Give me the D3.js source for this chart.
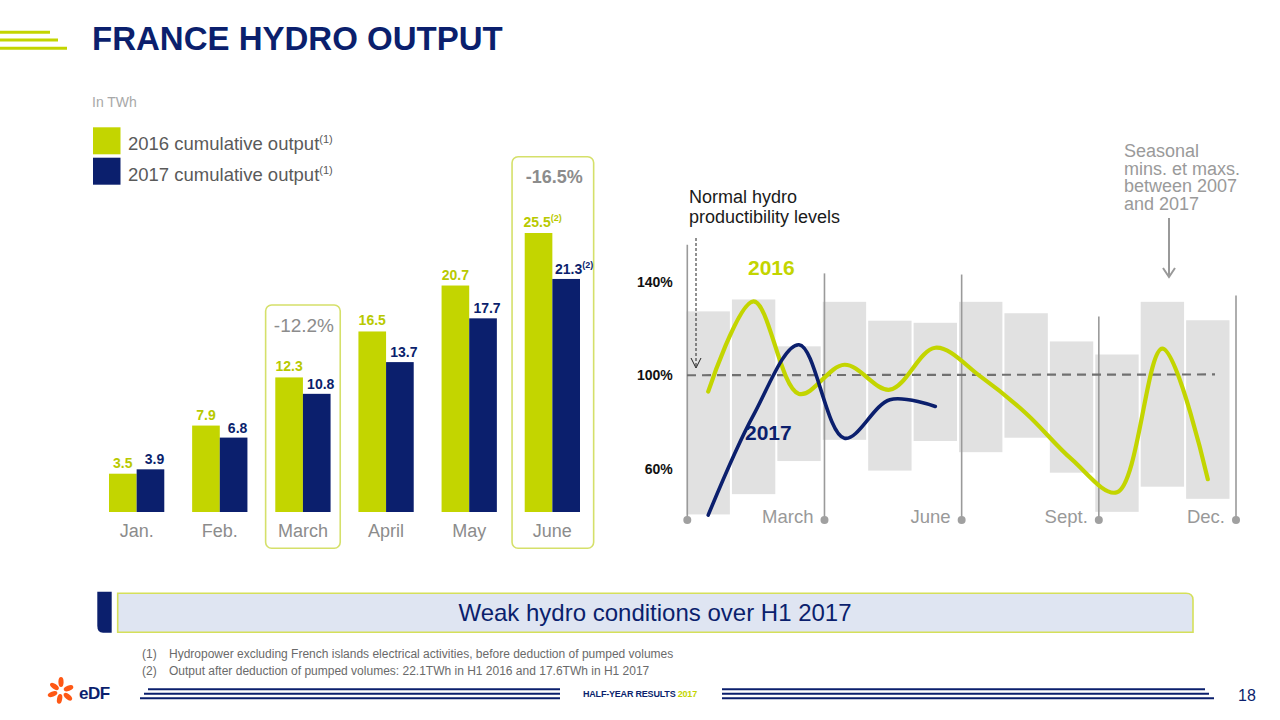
<!DOCTYPE html>
<html>
<head>
<meta charset="utf-8">
<script src="https://cdn.jsdelivr.net/npm/d3@7"></script>
<style>
  html, body { margin: 0; padding: 0; background: #ffffff; }
  svg { display: block; font-family: "Liberation Sans", Arial, sans-serif; }
</style>
</head>
<body>
<svg id="chart" width="1280" height="720"></svg>
<script>
// ---------- DATA ----------
const months = ["Jan.", "Feb.", "March", "April", "May", "June"];
const output2016 = [3.5, 7.9, 12.3, 16.5, 20.7, 25.5];
const output2017 = [3.9, 6.8, 10.8, 13.7, 17.7, 21.3];
const note2016 = ["", "", "", "", "", "(2)"];
const note2017 = ["", "", "", "", "", "(2)"];
const highlightMonths = ["March", "June"];
const highlightChanges = ["-12.2%", "-16.5%"];

const yearMonths = ["Jan", "Feb", "Mar", "Apr", "May", "Jun", "Jul", "Aug", "Sep", "Oct", "Nov", "Dec"];
const seasonalMin = [40.3, 49.0, 63.2, 72.3, 59.1, 71.8, 67.0, 73.2, 58.2, 41.4, 52.2, 47.0];
const seasonalMax = [127.4, 132.5, 112.4, 131.5, 123.4, 122.5, 131.5, 126.6, 114.5, 108.9, 131.5, 123.6];
const hydro2016 = [93.0, 131.7, 92.0, 104.5, 93.8, 111.8, 99.4, 83.6, 64.0, 49.8, 111.4, 55.4];
const hydro2017 = [40.0, 83.0, 113.1, 73.0, 89.5, 86.6];
const pctTicks = [60, 100, 140];
const quarterPos = [0, 3, 6, 9, 12];
const quarterLabels = ["", "March", "June", "Sept.", "Dec."];
const quarterTop = [156, 143.7, 143.2, 125.2, 134.2];

const GREEN = "#c3d500", GREEN_TXT = "#b8c900", NAVY = "#0b1f6d", GREY_TXT = "#8c8c8c";

const svg = d3.select("#chart");

// ---------- HEADER ----------
const hdr = svg.append("g");
[[32.3, 50], [40, 58], [48.3, 67]].forEach(([y, x2]) => {
  hdr.append("line").attr("x1", 0).attr("x2", x2).attr("y1", y).attr("y2", y)
    .attr("stroke", GREEN).attr("stroke-width", 3);
});
svg.append("text").attr("x", 92).attr("y", 50).attr("fill", NAVY)
  .attr("font-size", 33).attr("font-weight", "bold").text("FRANCE HYDRO OUTPUT");
svg.append("text").attr("x", 92).attr("y", 107).attr("fill", "#a8a8a8")
  .attr("font-size", 14).text("In TWh");

// ---------- LEGEND ----------
const legend = [["2016 cumulative output", GREEN], ["2017 cumulative output", NAVY]];
legend.forEach(([lbl, c], i) => {
  const y0 = 127.3 + i * 30.4;
  svg.append("rect").attr("x", 93).attr("y", y0).attr("width", 27.5).attr("height", 27).attr("fill", c);
  const t = svg.append("text").attr("x", 128).attr("y", y0 + 23).attr("fill", "#5a5a5a").attr("font-size", 18.5);
  t.append("tspan").text(lbl);
  t.append("tspan").attr("font-size", 11).attr("dy", -7).text("(1)");
});

// ---------- BAR CHART ----------
const xBar = d3.scaleBand().domain(months).range([109, 580]).paddingInner(0.335);
const xSub = d3.scaleBand().domain(["2016", "2017"]).range([0, xBar.bandwidth()]);
const yBar = d3.scaleLinear().domain([0, 25.5]).range([512, 233]);

// highlight boxes
highlightMonths.forEach((m, i) => {
  const cx = xBar(m) + xBar.bandwidth() / 2;
  const w = i === 0 ? 74.6 : 81.6;
  const top = i === 0 ? 305 : 156.7;
  svg.append("rect").attr("x", cx - w / 2 + (i === 0 ? 0 : 0.5)).attr("y", top)
    .attr("width", w).attr("height", 548.3 - top).attr("rx", 6)
    .attr("fill", "none").attr("stroke", "#d5e06a").attr("stroke-width", 1.6);
  svg.append("text").attr("x", cx + (i === 0 ? 1 : 2)).attr("y", i === 0 ? 332 : 183)
    .attr("text-anchor", "middle").attr("fill", GREY_TXT)
    .attr("font-size", i === 0 ? 19 : 18).attr("font-weight", i === 0 ? "normal" : "bold")
    .text(highlightChanges[i]);
});

const groups = svg.append("g").selectAll("g").data(months).join("g")
  .attr("transform", m => `translate(${xBar(m)},0)`);
groups.append("rect").attr("x", xSub("2016")).attr("width", xSub.bandwidth())
  .attr("y", (m, i) => yBar(output2016[i])).attr("height", (m, i) => yBar(0) - yBar(output2016[i]))
  .attr("fill", GREEN);
groups.append("rect").attr("x", xSub("2017")).attr("width", xSub.bandwidth())
  .attr("y", (m, i) => yBar(output2017[i])).attr("height", (m, i) => yBar(0) - yBar(output2017[i]))
  .attr("fill", NAVY);

groups.each(function (m, i) {
  const g = d3.select(this);
  const t1 = g.append("text").attr("x", xSub("2016") + xSub.bandwidth() / 2 + (note2016[i] ? 4 : 0))
    .attr("y", yBar(output2016[i]) - 6).attr("text-anchor", "middle")
    .attr("fill", GREEN_TXT).attr("font-size", 14).attr("font-weight", "bold");
  t1.append("tspan").text(output2016[i].toFixed(1));
  if (note2016[i]) t1.append("tspan").attr("font-size", 9).attr("dy", -6).text(note2016[i]);
  const t2 = g.append("text").attr("x", xSub("2017") + xSub.bandwidth() / 2 + (note2017[i] ? 8 : 4))
    .attr("y", yBar(output2017[i]) - 5).attr("text-anchor", "middle")
    .attr("fill", NAVY).attr("font-size", 14).attr("font-weight", "bold");
  t2.append("tspan").text(output2017[i].toFixed(1));
  if (note2017[i]) t2.append("tspan").attr("font-size", 9).attr("dy", -6).text(note2017[i]);
  g.append("text").attr("x", xBar.bandwidth() / 2).attr("y", 537).attr("text-anchor", "middle")
    .attr("fill", GREY_TXT).attr("font-size", 18).text(m);
});

// ---------- HYDRO INDEX CHART ----------
const xM = d3.scaleBand().domain(yearMonths).range([686.5, 1229.5]).paddingInner(0.045);
const xQ = d3.scaleLinear().domain([0, 12]).range([687.3, 1236]);
const yP = d3.scaleLinear().domain([60, 140]).range([468.5, 282]);
const baseY = 520;

// seasonal boxes
svg.append("g").selectAll("rect").data(yearMonths).join("rect")
  .attr("x", d => xM(d)).attr("width", xM.bandwidth())
  .attr("y", (d, i) => yP(seasonalMax[i])).attr("height", (d, i) => yP(seasonalMin[i]) - yP(seasonalMax[i]))
  .attr("fill", "#e1e1e1");

// quarter lines
const q = svg.append("g");
quarterPos.forEach((p, i) => {
  q.append("line").attr("x1", xQ(p)).attr("x2", xQ(p)).attr("y1", yP(quarterTop[i])).attr("y2", baseY)
    .attr("stroke", "#9a9a9a").attr("stroke-width", 1.6);
  q.append("circle").attr("cx", xQ(p)).attr("cy", baseY).attr("r", 4).attr("fill", "#a0a0a0");
  if (quarterLabels[i]) {
    q.append("text").attr("x", xQ(p) - 11).attr("y", 523).attr("text-anchor", "end")
      .attr("fill", "#999").attr("font-size", 18.5).text(quarterLabels[i]);
  }
});

// y tick labels
svg.append("g").selectAll("text").data(pctTicks).join("text")
  .attr("x", 672.7).attr("y", d => yP(d) + 5).attr("text-anchor", "end")
  .attr("font-size", 14).attr("font-weight", "bold").attr("fill", "#111")
  .text(d => d + "%");

// normal level dashed
svg.append("line").attr("x1", 687).attr("x2", 1215).attr("y1", yP(100)).attr("y2", yP(100) - 0.8)
  .attr("stroke", "#707070").attr("stroke-width", 2.2).attr("stroke-dasharray", "9,6");

// lines
const line = d3.line().x((d, i) => xM(yearMonths[i]) + xM.bandwidth() / 2).y(d => yP(d))
  .curve(d3.curveCatmullRom.alpha(0.5));
svg.append("path").datum(hydro2016).attr("d", line).attr("fill", "none")
  .attr("stroke", GREEN).attr("stroke-width", 4.2).attr("stroke-linecap", "round");
svg.append("path").datum(hydro2017).attr("d", line).attr("fill", "none")
  .attr("stroke", NAVY).attr("stroke-width", 3.6).attr("stroke-linecap", "round");

svg.append("text").attr("x", 748).attr("y", 275).attr("fill", GREEN)
  .attr("font-size", 21).attr("font-weight", "bold").text("2016");
svg.append("text").attr("x", 745).attr("y", 440).attr("fill", NAVY)
  .attr("font-size", 21).attr("font-weight", "bold").text("2017");

// annotations
const ann = svg.append("text").attr("x", 689).attr("fill", "#1a1a1a").attr("font-size", 18);
ann.append("tspan").attr("x", 689).attr("y", 203).text("Normal hydro");
ann.append("tspan").attr("x", 689).attr("y", 223).text("productibility levels");
svg.append("line").attr("x1", 696).attr("x2", 696).attr("y1", 238).attr("y2", 367)
  .attr("stroke", "#222").attr("stroke-width", 1).attr("stroke-dasharray", "3,2");
svg.append("path").attr("d", "M691,358 L696,368 L701,358").attr("fill", "none")
  .attr("stroke", "#222").attr("stroke-width", 1);

const seas = svg.append("text").attr("fill", "#9a9a9a").attr("font-size", 18);
["Seasonal", "mins. et maxs.", "between 2007", "and 2017"].forEach((s, i) => {
  seas.append("tspan").attr("x", 1124).attr("y", 157 + i * 17.5).text(s);
});
svg.append("line").attr("x1", 1169).attr("x2", 1169).attr("y1", 218).attr("y2", 276)
  .attr("stroke", "#999").attr("stroke-width", 2);
svg.append("path").attr("d", "M1163,268 L1169,277 L1175,268").attr("fill", "none")
  .attr("stroke", "#999").attr("stroke-width", 2);

// ---------- BANNER ----------
svg.append("path").attr("d", "M97.3,591.7 H111.7 V632.7 H103 Q97.3,632.7 97.3,626 Z").attr("fill", NAVY);
svg.append("path").attr("d", "M117.7,593.3 H1186 Q1193,593.3 1193,600 V632.3 H117.7 Z")
  .attr("fill", "#dfe5f2").attr("stroke", "#d5e05a").attr("stroke-width", 1.6);
svg.append("text").attr("x", 655).attr("y", 621).attr("text-anchor", "middle")
  .attr("fill", NAVY).attr("font-size", 24).text("Weak hydro conditions over H1 2017");

// footnotes
const notes = [["(1)", "Hydropower excluding French islands electrical activities, before deduction of pumped volumes"],
               ["(2)", "Output after deduction of pumped volumes: 22.1TWh in H1 2016 and 17.6TWh in H1 2017"]];
notes.forEach(([n, t], i) => {
  svg.append("text").attr("x", 142).attr("y", 658 + i * 17).attr("fill", "#6a6a6a").attr("font-size", 12).text(n);
  svg.append("text").attr("x", 169).attr("y", 658 + i * 17).attr("fill", "#6a6a6a").attr("font-size", 12).text(t);
});

// ---------- FOOTER ----------
const logo = svg.append("g").attr("transform", "translate(61,691)");
[[-90, 9], [-20, 8], [40, 9], [100, 8], [160, 9], [215, 8]].forEach(([a, r]) => {
  logo.append("ellipse").attr("cx", 0).attr("cy", -r).attr("rx", 2.6).attr("ry", 5)
    .attr("transform", `rotate(${a + 90})`).attr("fill", "#fe5815");
});
svg.append("text").attr("x", 79).attr("y", 699).attr("fill", NAVY).attr("font-size", 17)
  .attr("font-weight", "bold").attr("letter-spacing", -0.5).text("eDF");

[[689.3, 148, 560], [693.7, 144, 560], [698.3, 140, 560]].forEach(([y, x1, x2]) => {
  svg.append("line").attr("x1", x1).attr("x2", x2).attr("y1", y).attr("y2", y)
    .attr("stroke", NAVY).attr("stroke-width", 2);
});
[[689.3, 722, 1205], [693.7, 722, 1209], [698.3, 722, 1214]].forEach(([y, x1, x2]) => {
  svg.append("line").attr("x1", x1).attr("x2", x2).attr("y1", y).attr("y2", y)
    .attr("stroke", NAVY).attr("stroke-width", 2);
});
const hy = svg.append("text").attr("x", 583).attr("y", 697).attr("font-size", 9)
  .attr("font-weight", "bold").attr("letter-spacing", -0.2);
hy.append("tspan").attr("fill", NAVY).text("HALF-YEAR RESULTS ");
hy.append("tspan").attr("fill", GREEN).text("2017");
svg.append("text").attr("x", 1238).attr("y", 701).attr("fill", NAVY).attr("font-size", 16).text("18");
</script>
</body>
</html>
